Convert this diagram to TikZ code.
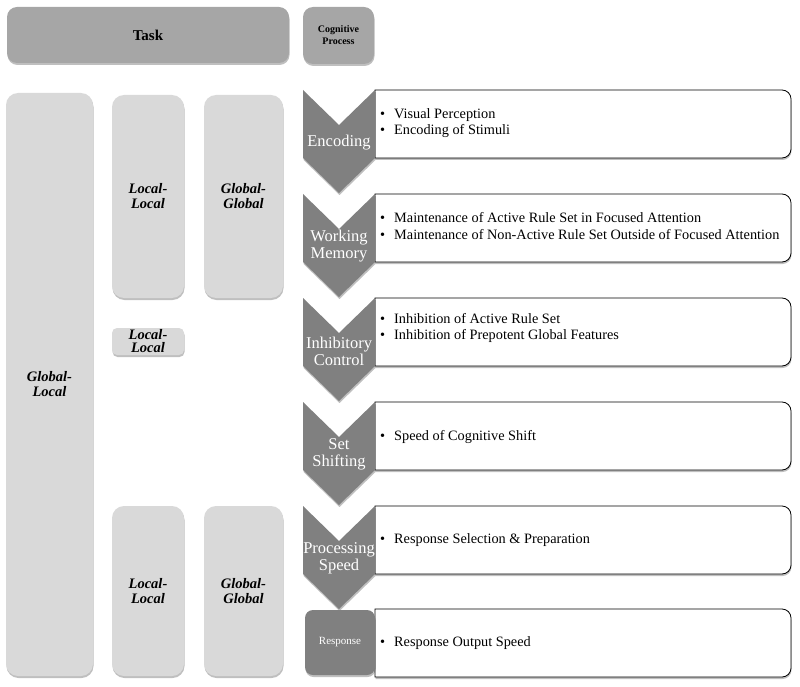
\documentclass[tikz,border=0pt]{standalone}
\usepackage{fontspec}
\setmainfont{Liberation Serif}
\usepackage{tikz}
\usetikzlibrary{shadows}
\tikzstyle{cogpic}=[
  x=1pt, y=-1pt
]
\tikzstyle{soft}=[
  drop shadow={shadow xshift=0.5pt, shadow yshift=-2pt, opacity=0.25, fill=black}
]
\tikzstyle{headbox}=[
  fill=gray!70, rounded corners=10pt, inner sep=0pt, align=center, soft
]
\tikzstyle{taskbox}=[
  fill=gray!30, rounded corners=12pt, inner sep=0pt, align=center, soft,
  font=\fontsize{14.5pt}{15pt}\selectfont\bfseries\itshape
]
\tikzstyle{chevfill}=[
  fill=gray, soft
]
\tikzstyle{chevtext}=[
  text=white, align=center, inner sep=0pt, font=\fontsize{16.5pt}{17pt}\selectfont
]
\tikzstyle{boxline}=[
  draw=black, line width=0.8pt, fill=white, soft
]
\tikzstyle{items}=[
  anchor=west, align=left, inner sep=0pt, font=\fontsize{14.3pt}{16.5pt}\selectfont
]
\newcommand{\cogchev}[1]{
  \path[chevfill] (303,#1) -- (339,#1+35) -- (375,#1) -- (375,#1+68)
    -- (339,#1+103) -- (303,#1+68) -- cycle;
}
\newcommand{\rulebox}[1]{
  \path[boxline] (375,#1) -- (782,#1) arc[start angle=-90, end angle=0, radius=9]
    -- (791,#1+59) arc[start angle=0, end angle=90, radius=9] -- (375,#1+68) -- cycle;
}
\newcommand{\itm}{\makebox[14pt][l]{\textbullet}}

\begin{document}
\begin{tikzpicture}[cogpic]
  \useasboundingbox (0,0) rectangle (800,687);
  % headers
  \node (task) at (148,35) [headbox, minimum width=282pt, minimum height=56pt,
    font=\fontsize{15pt}{15pt}\selectfont\bfseries] {Task};
  \node (cogproc) at (338.5,35.5) [headbox, minimum width=71pt, minimum height=57pt,
    font=\fontsize{10pt}{12pt}\selectfont\bfseries] {Cognitive\\Process};

  % task columns
  \node (gl) at (49.5,384.5) [taskbox, minimum width=87pt, minimum height=583pt] {Global-\\Local};
  \node (ll1) at (148,196.5) [taskbox, minimum width=72pt, minimum height=203pt] {Local-\\Local};
  \node (gg1) at (243.5,196.5) [taskbox, minimum width=79pt, minimum height=203pt] {Global-\\Global};
  \node (ll2) at (148,341.5) [taskbox, rounded corners=5pt, minimum width=72pt, minimum height=27pt,
    font=\fontsize{14.5pt}{13pt}\selectfont\bfseries\itshape] {Local-\\Local};
  \node (ll3) at (148,591) [taskbox, minimum width=72pt, minimum height=170pt] {Local-\\Local};
  \node (gg2) at (243.5,591) [taskbox, minimum width=79pt, minimum height=170pt] {Global-\\Global};

  % rule boxes
  \rulebox{90}
  \rulebox{194}
  \rulebox{298}
  \rulebox{402}
  \rulebox{506}
  \rulebox{609}

  % process chevrons
  \cogchev{90}
  \cogchev{194}
  \cogchev{298}
  \cogchev{402}
  \cogchev{506}
  \node (resp) at (340,642.5) [fill=gray, rounded corners=8pt, soft, minimum width=70pt,
    minimum height=65pt, text=white, font=\fontsize{11pt}{12pt}\selectfont] {Response};

  \node (enc) at (339,143) [chevtext] {Encoding};
  \node (wm) at (339,246) [chevtext] {Working\\Memory};
  \node (ic) at (339,351) [chevtext] {Inhibitory\\Control};
  \node (ss) at (339,454) [chevtext] {Set\\Shifting};
  \node (ps) at (339,558) [chevtext] {Processing\\Speed};

  \node (encl) at (380,123) [items] {\itm Visual Perception\\\itm Encoding of Stimuli};
  \node (wml) at (380,226) [items] {\itm Maintenance of Active Rule Set in Focused Attention\\
    \itm Maintenance of Non-Active Rule Set Outside of Focused Attention};
  \node (icl) at (380,328) [items] {\itm Inhibition of Active Rule Set\\\itm Inhibition of Prepotent Global Features};
  \node (ssl) at (380,437) [items] {\itm Speed of Cognitive Shift};
  \node (psl) at (380,540) [items] {\itm Response Selection \& Preparation};
  \node (rsl) at (380,643) [items] {\itm Response Output Speed};
\end{tikzpicture}
\end{document}
